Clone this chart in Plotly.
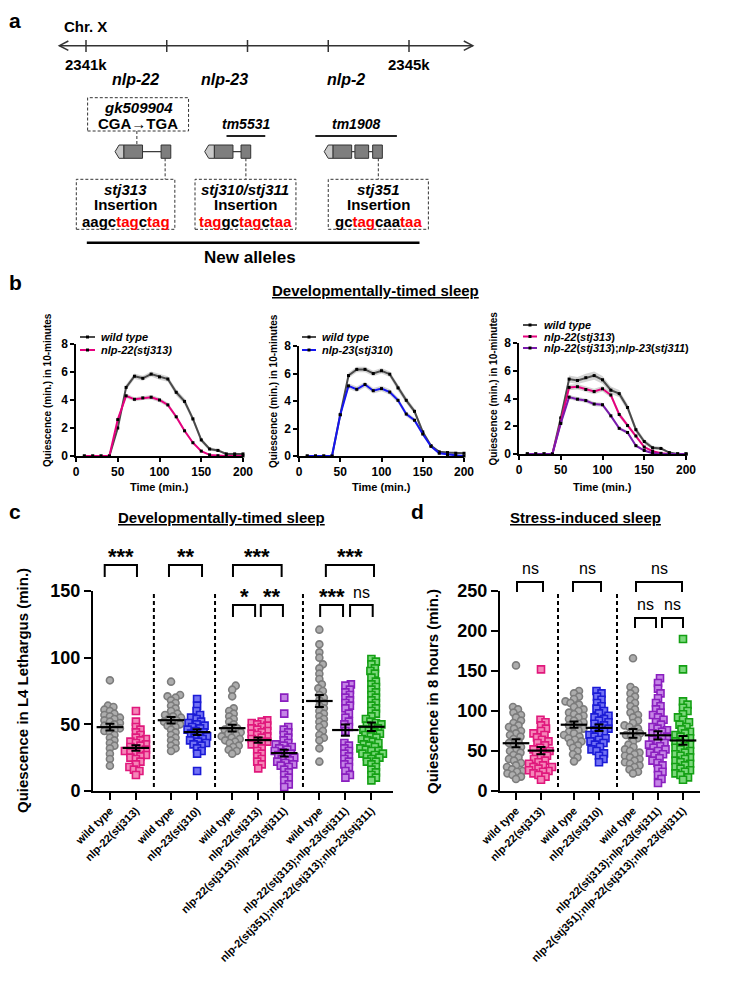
import numpy as np
import plotly.graph_objects as go

W, H = 750, 1000
FONT = "Liberation Sans, Arial, Helvetica, sans-serif"


def X(p):
    return p / W


def Y(p):
    return 1 - p / H


# ====================== DATA ======================
# ---- panel a: genomic schematic (positions in kb on Chr. X) ----
chrom_ticks_kb = [2341, 2342, 2343, 2344, 2345]
chrom_tick_text = ["2341k", "", "", "", "2345k"]
chrom_span_kb = [2340.67, 2345.79]
gene_names = ["nlp-22", "nlp-23", "nlp-2"]
gene_label_kb = [2341.61, 2342.71, 2344.22]
gene_utr_kb = [(2341.36, 2341.47), (2342.47, 2342.59), (2343.95, 2344.06)]
gene_exons_kb = [[(2341.47, 2341.70), (2341.93, 2342.05)],
                 [(2342.59, 2342.82), (2342.92, 2343.04)],
                 [(2344.06, 2344.29), (2344.33, 2344.50), (2344.55, 2344.67)]]
deletion_names = ["tm5531", "tm1908"]
deletion_kb = [(2342.74, 2343.22), (2343.84, 2344.85)]
point_allele = "gk509904"
point_change = "CGA→TGA"
point_site_kb = 2341.63
point_box_kb = (2341.02, 2342.27)
new_allele_names = ["stj313", "stj310/stj311", "stj351"]
new_allele_site_kb = [2341.98, 2342.98, 2344.62]
new_allele_box_kb = [(2340.88, 2342.10), (2342.35, 2343.60), (2344.00, 2345.24)]
new_allele_seq = [[("aagc", 0), ("tag", 1), ("c", 0), ("tag", 1)],
                  [("tag", 1), ("gc", 0), ("tag", 1), ("c", 0), ("taa", 1)],
                  [("gc", 0), ("tag", 1), ("caa", 0), ("taa", 1)]]
new_alleles_span_kb = (2341.01, 2345.13)

# ---- panel b: quiescence per 10 min ----
time_min = [10, 20, 30, 40, 50, 60, 70, 80, 90, 100,
            110, 120, 130, 140, 150, 160, 170, 180, 190, 200]
b1_wt = [0, 0, 0, 0, 2.0, 4.9, 5.7, 5.55, 5.85, 5.65, 5.5, 4.55, 3.9, 2.65, 1.15, 0.5, 0.4, 0.15, 0.15, 0.15]
b1_wt_sem = [0, 0, 0, 0, 0.15, 0.2, 0.2, 0.18, 0.18, 0.2, 0.2, 0.22, 0.22, 0.2, 0.16, 0.12, 0.1, 0.08, 0.06, 0.06]
b1_n22 = [0, 0, 0, 0, 2.6, 4.3, 4.05, 4.15, 4.2, 4.0, 3.65, 2.8, 1.8, 0.95, 0.35, 0.08, 0.02, 0, 0, 0]
b1_n22_sem = [0, 0, 0, 0, 0.15, 0.16, 0.15, 0.15, 0.16, 0.16, 0.15, 0.14, 0.12, 0.1, 0.06, 0.03, 0.02, 0, 0, 0]

b2_wt = [0, 0, 0, 0, 3.0, 5.85, 6.3, 6.3, 6.0, 6.2, 5.95, 4.95, 4.05, 3.25, 1.75, 0.75, 0.3, 0.25, 0.2, 0.2]
b2_wt_sem = [0, 0, 0, 0, 0.18, 0.2, 0.2, 0.2, 0.2, 0.2, 0.2, 0.22, 0.22, 0.2, 0.18, 0.12, 0.08, 0.07, 0.06, 0.06]
b2_n23 = [0, 0, 0, 0, 3.0, 5.1, 4.85, 5.2, 4.75, 4.9, 4.65, 4.05, 3.05, 2.6, 1.6, 0.7, 0.2, 0.1, 0.05, 0]
b2_n23_sem = [0, 0, 0, 0, 0.18, 0.2, 0.2, 0.2, 0.2, 0.2, 0.2, 0.2, 0.18, 0.17, 0.15, 0.1, 0.06, 0.04, 0.02, 0]

b3_wt = [0, 0, 0, 0, 2.6, 5.4, 5.3, 5.5, 5.65, 5.35, 4.6, 4.35, 3.35, 1.75, 0.9, 0.45, 0.4, 0.1, 0, 0]
b3_wt_sem = [0, 0, 0, 0, 0.2, 0.25, 0.25, 0.28, 0.3, 0.28, 0.26, 0.26, 0.25, 0.22, 0.18, 0.15, 0.12, 0.05, 0, 0]
b3_n22 = [0, 0, 0, 0, 2.3, 4.8, 4.85, 4.65, 4.5, 4.7, 4.25, 2.85, 2.05, 1.3, 0.5, 0.2, 0.05, 0, 0, 0]
b3_n22_sem = [0, 0, 0, 0, 0.18, 0.2, 0.2, 0.2, 0.2, 0.2, 0.2, 0.18, 0.16, 0.14, 0.1, 0.06, 0.03, 0, 0, 0]
b3_dbl = [0, 0, 0, 0, 2.2, 4.1, 3.95, 3.85, 3.6, 3.55, 2.75, 1.85, 1.55, 0.6, 0.25, 0.05, 0, 0, 0, 0]
b3_dbl_sem = [0, 0, 0, 0, 0.15, 0.16, 0.15, 0.15, 0.15, 0.15, 0.14, 0.12, 0.12, 0.08, 0.05, 0.02, 0, 0, 0, 0]

# ---- panel c: developmentally-timed sleep (min) ----
c_labels = ["wild type", "nlp-22(stj313)", "wild type", "nlp-23(stj310)", "wild type",
            "nlp-22(stj313)", "nlp-22(stj313);nlp-23(stj311)", "wild type",
            "nlp-22(stj313);nlp-23(stj311)", "nlp-2(stj351);nlp-22(stj313);nlp-23(stj311)"]
c_genotype = ["wt", "n22", "wt", "n23", "wt", "n22", "dbl", "wt", "dbl", "tri"]
c_wt1 = [83, 64, 63, 61, 60, 58, 57, 56, 55, 54, 53, 52, 51, 50, 49, 48, 47, 46, 45, 44, 42, 40, 38, 36, 34, 32, 28, 24, 19]
c_n22_1 = [60, 52, 48, 46, 44, 42, 40, 39, 38, 37, 36, 35, 34, 33, 32, 31, 30, 30, 29, 28, 27, 26, 25, 24, 22, 20, 18, 16, 15, 12]
c_wt2 = [82, 72, 71, 70, 68, 66, 64, 62, 60, 58, 57, 56, 55, 54, 53, 52, 51, 50, 49, 48, 46, 44, 42, 40, 38, 36, 34, 32, 30]
c_n23 = [69, 64, 60, 57, 55, 54, 52, 51, 50, 49, 48, 47, 46, 45, 44, 43, 42, 41, 40, 39, 38, 37, 36, 35, 34, 32, 30, 28, 15]
c_wt3 = [79, 76, 71, 62, 60, 58, 56, 54, 52, 50, 48, 47, 46, 45, 44, 43, 42, 41, 40, 39, 38, 37, 36, 34, 33, 31, 30, 28]
c_n22_3 = [53, 52, 51, 50, 49, 48, 47, 46, 45, 44, 43, 42, 41, 40, 39, 38, 37, 36, 35, 34, 32, 30, 28, 26, 24, 22, 20, 17]
c_dbl3 = [70, 58, 48, 46, 44, 42, 40, 38, 36, 35, 34, 33, 32, 31, 30, 29, 28, 27, 26, 25, 24, 23, 22, 21, 20, 19, 18, 16, 14, 12, 10, 8, 5, 3]
c_wt4 = [121, 110, 104, 100, 95, 92, 88, 84, 80, 77, 75, 72, 70, 68, 66, 64, 62, 60, 58, 56, 54, 52, 50, 48, 45, 42, 40, 38, 32, 22]
c_dbl4 = [80, 79, 76, 74, 72, 70, 68, 66, 64, 62, 58, 55, 52, 50, 48, 45, 36, 34, 32, 30, 28, 26, 24, 22, 20, 18, 15, 12, 10]
c_tri4 = [99, 97, 95, 92, 90, 88, 85, 82, 80, 78, 76, 74, 72, 70, 68, 66, 64, 62, 60, 58, 56, 54, 52, 51, 50, 49, 48, 47,
          46, 45, 44, 43, 42, 41, 40, 39, 38, 37, 36, 35, 34, 33, 32, 31, 30, 30, 28, 28, 27, 26, 25, 24, 22, 22, 20, 18,
          16, 14, 12, 10, 8]
c_groups = [c_wt1, c_n22_1, c_wt2, c_n23, c_wt3, c_n22_3, c_dbl3, c_wt4, c_dbl4, c_tri4]
c_tests = [(0, 1, "***"), (2, 3, "**"), (4, 6, "***"), (4, 5, "*"), (5, 6, "**"),
           (7, 8, "***"), (8, 9, "ns"), (7, 9, "***")]

# ---- panel d: stress-induced sleep (min) ----
d_labels = ["wild type", "nlp-22(stj313)", "wild type", "nlp-23(stj310)", "wild type",
            "nlp-22(stj313);nlp-23(stj311)", "nlp-2(stj351);nlp-22(stj313);nlp-23(stj311)"]
d_genotype = ["wt", "n22", "wt", "n23", "wt", "dbl", "tri"]
d_wt1 = [157, 105, 102, 98, 95, 92, 88, 85, 82, 80, 78, 75, 72, 70, 68, 65, 62, 60, 58, 55, 52, 50, 48, 45, 42, 40, 38,
         35, 32, 30, 27, 25, 24, 22, 20, 18, 15]
d_n22_1 = [152, 89, 86, 82, 78, 75, 72, 70, 67, 64, 62, 60, 57, 54, 52, 50, 48, 46, 44, 42, 40, 38, 36, 34, 32, 30, 30,
           28, 26, 25, 24, 22, 20, 18, 14]
d_wt2 = [125, 122, 118, 115, 112, 110, 108, 105, 102, 100, 98, 96, 94, 92, 90, 88, 86, 84, 82, 80, 78, 76, 74, 72, 70,
         68, 66, 64, 62, 60, 57, 54, 50, 46, 42, 37]
d_n23 = [125, 122, 118, 114, 110, 106, 103, 100, 97, 94, 92, 90, 88, 86, 84, 82, 80, 78, 76, 74, 72, 70, 68, 66, 64, 62,
         60, 58, 55, 52, 50, 47, 44, 40, 36]
d_wt3 = [166, 130, 126, 122, 118, 114, 110, 106, 102, 98, 95, 92, 88, 85, 82, 80, 78, 75, 72, 70, 68, 66, 62, 58, 55,
         52, 50, 48, 46, 44, 42, 40, 38, 36, 34, 32, 30, 27, 24, 22]
d_dbl3 = [141, 135, 128, 122, 116, 110, 106, 102, 98, 95, 92, 89, 86, 83, 80, 78, 76, 74, 72, 70, 68, 66, 64, 62, 60,
          58, 56, 54, 52, 50, 48, 46, 44, 41, 38, 35, 32, 28, 24, 20, 15, 10]
d_tri3 = [190, 152, 112, 108, 104, 100, 96, 92, 89, 86, 83, 80, 77, 74, 72, 70, 68, 66, 64, 62, 60, 58, 56, 54, 52, 50,
          48, 46, 44, 42, 40, 38, 36, 34, 32, 30, 28, 26, 24, 22, 20, 17, 14]
d_groups = [d_wt1, d_n22_1, d_wt2, d_n23, d_wt3, d_dbl3, d_tri3]
d_tests = [(0, 1, "ns"), (2, 3, "ns"), (4, 6, "ns"), (4, 5, "ns"), (5, 6, "ns")]

# ====================== STYLE / LAYOUT CONSTANTS ======================
c_pos = [0, 1, 2.35, 3.35, 4.7, 5.7, 6.7, 8.05, 9.05, 10.05]
d_pos = [0, 1, 2.32, 3.32, 4.68, 5.68, 6.68]
c_sep = [1.69, 4.04, 7.42]
d_sep = [1.68, 4.04]
c_br_geom = {(0, 1): (-0.2, 1.04, 0), (2, 3): (2.27, 3.54, 0), (4, 6): (4.73, 6.6, 0), (4, 5): (4.73, 5.58, 1),
             (5, 6): (5.8, 6.65, 1), (7, 8): (8.08, 8.96, 1), (8, 9): (9.23, 10.1, 1), (7, 9): (8.3, 10.15, 0)}
d_br_geom = {(0, 1): (0.04, 1.08, 0), (2, 3): (2.28, 3.4, 0), (4, 6): (4.8, 6.64, 0), (4, 5): (4.76, 5.6, 1),
             (5, 6): (5.84, 6.68, 1)}
c_levels_px = [(565, 577), (605, 617)]
d_levels_px = [(582, 592), (618, 628)]

STY = {
    "wt": dict(symbol="circle", fill="#adadad", edge="#7c7c7c", line="#4a4a4a"),
    "n22": dict(symbol="square", fill="#f585b8", edge="#e0187c", line="#e6007e"),
    "n23": dict(symbol="square", fill="#7272f4", edge="#1b1bd6", line="#1515f0"),
    "dbl": dict(symbol="square", fill="#c584e6", edge="#8a1fbf", line="#7a1aae"),
    "tri": dict(symbol="square", fill="#7bd87b", edge="#14a014", line="#14a014"),
}

fig = go.Figure()
shapes = []
anns = []


def ann(x, y, text, size, xref="paper", yref="paper", xanchor="center", yanchor="middle",
        angle=0, color="black"):
    anns.append(dict(x=x, y=y, xref=xref, yref=yref, text=text, showarrow=False,
                     xanchor=xanchor, yanchor=yanchor, textangle=angle,
                     font=dict(family=FONT, size=size, color=color)))


def line(x0, y0, x1, y1, xref="paper", yref="paper", color="black", width=1.5, dash=None):
    d = dict(type="line", x0=x0, y0=y0, x1=x1, y1=y1, xref=xref, yref=yref,
             line=dict(color=color, width=width))
    if dash:
        d["line"]["dash"] = dash
    shapes.append(d)


# ====================== PANEL A ======================
kb_per_px = 1 / 80.75
kb0 = 2341 - 86 * kb_per_px
kb1 = kb0 + W * kb_per_px
XA = "x6"
fig.add_trace(go.Scatter(x=[kb0], y=[0], xaxis="x6", yaxis="y6", mode="markers",
                         marker=dict(opacity=0), showlegend=False, hoverinfo="skip"))

ann(X(15), Y(20), "<b>a</b>", 21)
ann(X(62), Y(26), "<b>Chr. X</b>", 15, xanchor="left")
cy = 45.7
line(chrom_span_kb[0], Y(cy), chrom_span_kb[1], Y(cy), xref=XA, color="#333", width=1.5)
chev = 9 * kb_per_px
shapes.append(dict(type="path", xref=XA, yref="paper",
                   path=f"M {chrom_span_kb[0] + chev},{Y(cy - 4.7)} L {chrom_span_kb[0]},{Y(cy)} L {chrom_span_kb[0] + chev},{Y(cy + 4.7)}",
                   line=dict(color="#333", width=1.5)))
shapes.append(dict(type="path", xref=XA, yref="paper",
                   path=f"M {chrom_span_kb[1] - chev},{Y(cy - 4.7)} L {chrom_span_kb[1]},{Y(cy)} L {chrom_span_kb[1] - chev},{Y(cy + 4.7)}",
                   line=dict(color="#333", width=1.5)))
for t, lab in zip(chrom_ticks_kb, chrom_tick_text):
    line(t, Y(40), t, Y(52), xref=XA, color="#333", width=1.5)
    if lab:
        ann(t, Y(64), f"<b>{lab}</b>", 15, xref=XA)
for g, gx in zip(gene_names, gene_label_kb):
    ann(gx, Y(80), f"<b><i>{g}</i></b>", 16, xref=XA)

gt, gb = 145, 158.3
gm = (gt + gb) / 2
tip = 4 * kb_per_px
for utr, exons in zip(gene_utr_kb, gene_exons_kb):
    for (a0, a1), (b0, b1) in zip(exons[:-1], exons[1:]):
        line(a1, Y(gm), b0, Y(gm), xref=XA, color="#333", width=1.2)
    shapes.append(dict(type="path", xref=XA, yref="paper",
                       path=f"M {utr[0]},{Y(gm)} L {utr[0] + tip},{Y(gt)} L {utr[1]},{Y(gt)} L {utr[1]},{Y(gb)} L {utr[0] + tip},{Y(gb)} Z",
                       fillcolor="#c8c8c8", line=dict(color="#333", width=1)))
    for e0, e1 in exons:
        shapes.append(dict(type="rect", xref=XA, yref="paper", x0=e0, x1=e1, y0=Y(gb), y1=Y(gt),
                           fillcolor="#7e7e7e", line=dict(color="#333", width=1)))

for nm, (d0, d1) in zip(deletion_names, deletion_kb):
    line(d0, Y(136), d1, Y(136), xref=XA, color="#222", width=1.8)
    ann((d0 + d1) / 2, Y(124), f"<b><i>{nm}</i></b>", 14, xref=XA)

DASH = "3px,2px"
shapes.append(dict(type="rect", xref=XA, yref="paper", x0=point_box_kb[0], x1=point_box_kb[1],
                   y0=Y(131), y1=Y(97.7), line=dict(color="#333", width=1, dash=DASH)))
line(point_site_kb, Y(131), point_site_kb, Y(gt), xref=XA, color="#333", width=1, dash=DASH)
pbx = sum(point_box_kb) / 2
ann(pbx, Y(107.5), f"<b><i>{point_allele}</i></b>", 15, xref=XA)
ann(pbx, Y(123), f"<b>{point_change}</b>", 15, xref=XA)

for nm, site, (b0, b1), seq in zip(new_allele_names, new_allele_site_kb, new_allele_box_kb, new_allele_seq):
    shapes.append(dict(type="rect", xref=XA, yref="paper", x0=b0, x1=b1, y0=Y(229.3), y1=Y(179.3),
                       line=dict(color="#333", width=1, dash=DASH)))
    line(site, Y(gb), site, Y(179.3), xref=XA, color="#333", width=1, dash=DASH)
    bx = (b0 + b1) / 2
    ann(bx, Y(189), f"<b><i>{nm}</i></b>", 15, xref=XA)
    ann(bx, Y(204.5), "<b>Insertion</b>", 15, xref=XA)
    s = "".join(f'<span style="color:#ff0000">{t}</span>' if red else t for t, red in seq)
    ann(bx, Y(221.5), f"<b>{s}</b>", 15, xref=XA)

line(new_alleles_span_kb[0], Y(242.7), new_alleles_span_kb[1], Y(242.7), xref=XA, color="black", width=2.5)
ann(2343.03, Y(257), "<b>New alleles</b>", 17, xref=XA)

# ====================== PANEL B ======================
ann(X(15), Y(282), "<b>b</b>", 21)
ann(X(375), Y(291), '<b><span style="text-decoration:underline">Developmentally-timed sleep</span></b>', 15)

b_panels = [
    dict(xa="x", ya="y", xd=(76, 243), yd=(344, 456), ytx=47, series=[
        ("wt", b1_wt, b1_wt_sem, "<i>wild type</i>"),
        ("n22", b1_n22, b1_n22_sem, "<i>nlp-22(stj313)</i>")],
         leg=dict(x0=80, x1=95, tx=99, ys=[337, 350])),
    dict(xa="x2", ya="y2", xd=(299, 464), yd=(346, 456), ytx=273, series=[
        ("wt", b2_wt, b2_wt_sem, "<i>wild type</i>"),
        ("n23", b2_n23, b2_n23_sem, "<i>nlp-23</i>(<i>stj310</i>)")],
         leg=dict(x0=302, x1=316, tx=320, ys=[337, 350])),
    dict(xa="x3", ya="y3", xd=(519, 686), yd=(343, 454), ytx=493, series=[
        ("wt", b3_wt, b3_wt_sem, "<i>wild type</i>"),
        ("n22", b3_n22, b3_n22_sem, "<i>nlp-22</i>(<i>stj313</i>)"),
        ("dbl", b3_dbl, b3_dbl_sem, "<i>nlp-22</i>(<i>stj313</i>);<i>nlp-23</i>(<i>stj311</i>)")],
         leg=dict(x0=523, x1=537, tx=542, ys=[325, 336.5, 348])),
]

layout_axes = {}
for i, bp in enumerate(b_panels):
    for key, m, s, lab in bp["series"]:
        up = [a + b for a, b in zip(m, s)]
        lo = [max(a - b, 0) for a, b in zip(m, s)]
        fig.add_trace(go.Scatter(x=time_min + time_min[::-1], y=up + lo[::-1], fill="toself",
                                 fillcolor="rgba(160,160,160,0.45)", line=dict(width=0),
                                 mode="lines", xaxis=bp["xa"], yaxis=bp["ya"], showlegend=False,
                                 hoverinfo="skip"))
    for key, m, s, lab in bp["series"]:
        fig.add_trace(go.Scatter(x=time_min, y=m, mode="lines+markers",
                                 line=dict(color=STY[key]["line"], width=2),
                                 marker=dict(symbol="square", size=3, color="black"),
                                 xaxis=bp["xa"], yaxis=bp["ya"], showlegend=False, cliponaxis=False))
    lg = bp["leg"]
    for (key, m, s, lab), ly in zip(bp["series"], lg["ys"]):
        line(X(lg["x0"]), Y(ly), X(lg["x1"]), Y(ly), color=STY[key]["line"], width=2)
        xm = (lg["x0"] + lg["x1"]) / 2
        shapes.append(dict(type="rect", xref="paper", yref="paper", x0=X(xm - 1.5), x1=X(xm + 1.5),
                           y0=Y(ly + 1.5), y1=Y(ly - 1.5), fillcolor="black", line=dict(width=0)))
        ann(X(lg["tx"]), Y(ly), f"<b>{lab}</b>", 11, xanchor="left")
    yc = (bp["yd"][0] + bp["yd"][1]) / 2 - 10
    ann(X(bp["ytx"]), Y(yc), "<b>Quiescence (min.) in 10-minutes</b>", 10, angle=-90)
    ann(X((bp["xd"][0] + bp["xd"][1]) / 2), Y(487), "<b>Time (min.)</b>", 11)
    n = "" if i == 0 else str(i + 1)
    layout_axes["xaxis" + n] = dict(domain=[X(bp["xd"][0]), X(bp["xd"][1])], range=[0, 200],
                                    tickvals=[0, 50, 100, 150, 200], anchor=bp["ya"])
    layout_axes["yaxis" + n] = dict(domain=[Y(bp["yd"][1]), Y(bp["yd"][0])], range=[0, 8],
                                    tickvals=[0, 2, 4, 6, 8], anchor=bp["xa"])
    for k in ("xaxis" + n, "yaxis" + n):
        layout_axes[k].update(showline=True, linecolor="black", linewidth=1.5, ticks="outside",
                              ticklen=4, tickwidth=1.5, tickcolor="black", showgrid=False,
                              zeroline=False, automargin=False,
                              tickfont=dict(family=FONT, size=12, color="black", weight="bold"))


# ====================== PANELS C & D ======================
def swarm(vals, sx, sy, D=5.2):
    vals = np.asarray(vals, float)
    order = np.argsort(vals)
    placed = []
    offs = np.zeros(len(vals))
    cands = [0.0]
    for j in range(1, 120):
        cands += [0.5 * j, -0.5 * j]
    for i in order:
        yv = vals[i] * sy
        for c in cands:
            if all((c - xo) ** 2 + (yv - yo) ** 2 >= D * D for xo, yo in placed):
                break
        placed.append((c, yv))
        offs[i] = c
    return offs / sx


def dot_panel(groups, pos, genos, xa, ya, sx, sy):
    for vals, p, g in zip(groups, pos, genos):
        st = STY[g]
        off = swarm(vals, sx, sy)
        fig.add_trace(go.Scatter(x=[p + o for o in off], y=vals, mode="markers", xaxis=xa, yaxis=ya,
                                 marker=dict(symbol=st["symbol"], size=7, color=st["fill"],
                                             line=dict(color=st["edge"], width=1.6)),
                                 showlegend=False, cliponaxis=False))
    means = [float(np.mean(v)) for v in groups]
    sems = [float(np.std(v, ddof=1) / np.sqrt(len(v))) for v in groups]
    fig.add_trace(go.Scatter(x=pos, y=means, mode="markers", xaxis=xa, yaxis=ya,
                             marker=dict(symbol="line-ew", size=19, color="black",
                                         line=dict(color="black", width=2.2)),
                             error_y=dict(type="data", array=sems, visible=True, color="black",
                                          thickness=2, width=4.5),
                             showlegend=False, cliponaxis=False))


# ---- c ----
ann(X(15), Y(511), "<b>c</b>", 21)
ann(X(221), Y(517), '<b><span style="text-decoration:underline">Developmentally-timed sleep</span></b>', 15)
dot_panel(c_groups, c_pos, c_genotype, "x4", "y4", 26.0, 200 / 150)
for s in c_sep:
    line(s, 3, s, 150, xref="x4", yref="y4", color="black", width=2, dash="4px,3px")
for a, b, lab in c_tests:
    x0, x1, lev = c_br_geom[(a, b)]
    top, leg = c_levels_px[lev]
    shapes.append(dict(type="path", xref="x4", yref="paper",
                       path=f"M {x0},{Y(leg)} L {x0},{Y(top)} L {x1},{Y(top)} L {x1},{Y(leg)}",
                       line=dict(color="black", width=2)))
    if lab == "ns":
        ann((x0 + x1) / 2, Y(top - 13), "ns", 16, xref="x4")
    else:
        ann((x0 + x1) / 2, Y(top - 9), f"<b>{lab}</b>", 22, xref="x4")
ann(X(22), Y(691), "<b>Quiescence in L4 Lethargus (min.)</b>", 15, angle=-90)
layout_axes["xaxis4"] = dict(domain=[X(93), X(393)], range=[-0.65, 10.88], anchor="y4",
                             tickvals=c_pos, ticktext=c_labels, tickangle=-45)
layout_axes["yaxis4"] = dict(domain=[Y(791), Y(591)], range=[0, 150], anchor="x4",
                             tickvals=[0, 50, 100, 150])

# ---- d ----
ann(X(417), Y(511), "<b>d</b>", 21)
ann(X(585), Y(517), '<b><span style="text-decoration:underline">Stress-induced sleep</span></b>', 15)
dot_panel(d_groups, d_pos, d_genotype, "x5", "y5", 25.0, 200 / 250)
for s in d_sep:
    line(s, 5, s, 249, xref="x5", yref="y5", color="black", width=2, dash="4px,3px")
for a, b, lab in d_tests:
    x0, x1, lev = d_br_geom[(a, b)]
    top, leg = d_levels_px[lev]
    shapes.append(dict(type="path", xref="x5", yref="paper",
                       path=f"M {x0},{Y(leg)} L {x0},{Y(top)} L {x1},{Y(top)} L {x1},{Y(leg)}",
                       line=dict(color="black", width=2)))
    ann((x0 + x1) / 2, Y(top - 14), lab, 16, xref="x5")
ann(X(432), Y(691), "<b>Quiescence in 8 hours (min.)</b>", 15, angle=-90)
layout_axes["xaxis5"] = dict(domain=[X(500), X(700)], range=[-0.64, 7.36], anchor="y5",
                             tickvals=d_pos, ticktext=d_labels, tickangle=-45)
layout_axes["yaxis5"] = dict(domain=[Y(791), Y(591)], range=[0, 250], anchor="x5",
                             tickvals=[0, 50, 100, 150, 200, 250])

for k in ("xaxis4", "xaxis5"):
    layout_axes[k].update(showline=True, linecolor="black", linewidth=2, ticks="outside", ticklen=7,
                          tickwidth=2, tickcolor="black", showgrid=False, zeroline=False, automargin=False,
                          tickfont=dict(family=FONT, size=11, color="black", weight="bold"))
for k in ("yaxis4", "yaxis5"):
    layout_axes[k].update(showline=True, linecolor="black", linewidth=2, ticks="outside", ticklen=7,
                          tickwidth=2, tickcolor="black", showgrid=False, zeroline=False, automargin=False,
                          tickfont=dict(family=FONT, size=18, color="black", weight="bold"))

layout_axes["xaxis6"] = dict(domain=[0, 1], range=[kb0, kb1], visible=False, anchor="y6",
                             fixedrange=True, automargin=False)
layout_axes["yaxis6"] = dict(domain=[0.72, 1], range=[0, 1], visible=False, anchor="x6",
                             fixedrange=True, automargin=False)

fig.update_layout(template="none", width=W, height=H, autosize=False,
                  margin=dict(l=0, r=0, t=0, b=0, pad=0, autoexpand=False),
                  paper_bgcolor="white", plot_bgcolor="rgba(0,0,0,0)", showlegend=False,
                  font=dict(family=FONT, color="black"), shapes=shapes, annotations=anns,
                  **layout_axes)

fig.write_html("out.html")
